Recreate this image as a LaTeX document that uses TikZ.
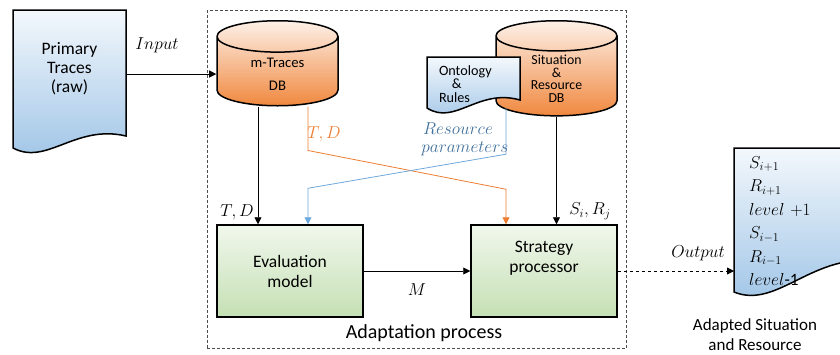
\documentclass[tikz,border=0pt]{standalone}
\usepackage{fontspec}
\setmainfont{Carlito}
\usetikzlibrary{shapes.geometric, arrows.meta, positioning}
\definecolor{docblue}{HTML}{9DC3E6}
\definecolor{dborange}{HTML}{F0883F}
\definecolor{boxgreen}{HTML}{C5E0B4}
\definecolor{lineorange}{HTML}{ED7D31}
\definecolor{lineblue}{HTML}{6FA8DC}
\definecolor{labelblue}{HTML}{41719C}

\tikzset{
  docfill/.style={top color=docblue!12, bottom color=docblue, draw=black, line width=1.5pt},
  dbase/.style={cylinder, shape border rotate=90, aspect=0.52, draw=black, line width=1.5pt,
    top color=dborange!12, bottom color=dborange, minimum width=121, minimum height=85, align=center},
  procbox/.style={draw=black, line width=1.5pt, top color=boxgreen!25, bottom color=boxgreen,
    minimum width=146, minimum height=92, align=center, font=\fontsize{17.5}{20}\selectfont},
  frame/.style={draw=black!70, line width=0.9pt, dash pattern=on 3pt off 2pt},
  conn/.style={-{Triangle[length=7pt,width=7pt]}, line width=0.8pt},
  mlabel/.style={font=\fontsize{17.28}{20}\selectfont},
}

% document outline with a wavy lower edge
\newcommand{\docpath}[5]{%
  \pgfmathsetmacro\docw{#3-#1}%
  \shade[docfill] (#1,#2) -- (#3,#2) -- (#3,#4)
    .. controls +(-0.45*\docw,-12) and +(0.3*\docw,18) .. (#1,#5) -- cycle;}

\begin{document}
\begin{tikzpicture}[x=1pt, y=-1pt, font=\fontsize{14.7}{17}\selectfont]
\useasboundingbox (0,0) rectangle (840,354);
\clip (0,0) rectangle (840,354);

% adaptation process frame
\node[frame, minimum width=419, minimum height=338] (adapt) at (416.5,179.5) {};
\node[font=\fontsize{20}{22}\selectfont] (adaptlbl) at (424,333) {Adaptation process};

% primary traces
\docpath{13}{10}{126}{136}{148}
\node[minimum width=113, minimum height=118, align=center,
  font=\fontsize{17.5}{19}\selectfont] (raw) at (69.5,69) {Primary\\Traces\\(raw)};

% data bases
\node[dbase, anchor=north] (mtr) at (277.5,20) {m-Traces\\[6pt]DB};
\node[dbase, anchor=north, font=\fontsize{13.8}{12.6}\selectfont] (sitdb) at (556.5,20)
  {Situation\\\&\\Resource\\DB};

% ontology
\docpath{427}{57}{520}{100}{108}
\node[text width=69, inner xsep=12, minimum height=48, align=left,
  font=\fontsize{14.2}{13.8}\selectfont] (onto) at (473.5,84) {Ontology\\\hspace{0.9em}\&\\Rules};

% processing boxes
\node[procbox] (eval) at (290,271) {Evaluation\\model};
\node[procbox] (strat) at (544,271) {Strategy\\processor\\[8pt]\mbox{}};

% adapted output
\docpath{734}{148}{880}{262}{292}
\node[anchor=west, text width=100, inner xsep=15, align=left,
  font=\fontsize{17.28}{23.5}\selectfont] (outdoc) at (734,221)
  {$S_{i+1}$\\$R_{i+1}$\\$level$ $+1$\\$S_{i-1}$\\$R_{i-1}$\\$level$-1};
\node[align=center, font=\fontsize{17}{20}\selectfont] (outlbl) at (755,335)
  {Adapted Situation\\and Resource};

% connectors
\draw[conn] (raw.east |- mtr.west) -- (mtr.west);
\draw[conn] ([xshift=-32]eval.north |- mtr.south) -- ([xshift=-32]eval.north);
\draw[conn, lineorange] ([xshift=30.5]mtr.south) -- ++(0,44)
  -- ([xshift=-38, yshift=35]strat.north) -- ([xshift=-38]strat.north);
\draw[conn, lineblue] ([xshift=32.5]onto.south) -- ++(0,46)
  -- ([xshift=18, yshift=36]eval.north) -- ([xshift=18]eval.north);
\draw[conn] (sitdb.south) -- (strat.north -| sitdb.south);
\draw[conn] (eval.east) -- (strat.west);
\draw[conn, dash pattern=on 3pt off 3pt] (strat.east) -- (strat.east -| outdoc.west);

% labels
\node[mlabel] (inlbl) at (157,45) {$Input$};
\node[mlabel] (tdlbl) at (237,212) {$T,D$};
\node[mlabel, text=lineorange] (tdolbl) at (324,134) {$T,D$};
\node[mlabel, text=labelblue, align=center, font=\fontsize{17.28}{18}\selectfont] (reslbl) at (458,139)
  {$Resource$\\\hspace{0.8em}$parameters$};
\node[mlabel] (sirjlbl) at (590,211) {$S_i,R_j$};
\node[mlabel] (mlbl) at (417,290) {$M$};
\node[mlabel] (outtxt) at (698,253) {$Output$};
\end{tikzpicture}
\end{document}
